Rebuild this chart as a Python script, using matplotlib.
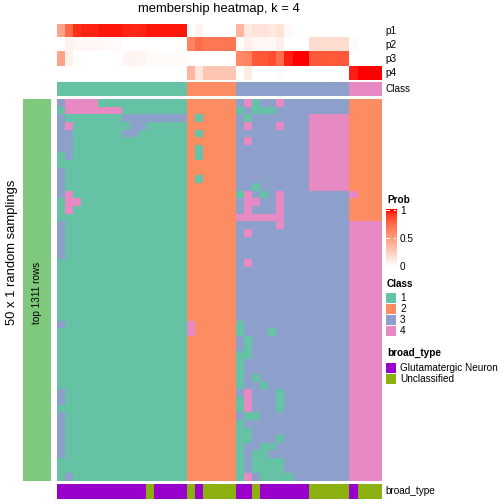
import numpy as np
import matplotlib
matplotlib.use("Agg")
import matplotlib.pyplot as plt
from matplotlib.colors import ListedColormap, LinearSegmentedColormap, BoundaryNorm

plt.rcParams['font.family'] = ['Liberation Sans', 'DejaVu Sans']

W = H = 504

# class colours (Class legend)
class_names = ["1", "2", "3", "4"]
class_colors = ["#66C2A5", "#FC8D62", "#8DA0CB", "#E78AC3"]

# consensus class of the 40 samples (columns)
consensus_class = "1111111111111111 222222 33333333333333 4444"

# membership probabilities per sample
p1 = [0.47, 0.75, 0.92, 0.94, 0.94, 0.96, 0.96, 0.96, 0.94, 0.93, 0.94, 0.96, 0.96, 0.96, 0.96, 0.96,
      0.0, 0.06, 0.0, 0.0, 0.0, 0.0,
      0.38, 0.12, 0.15, 0.15, 0.12, 0.15, 0.03, 0.0, 0.0, 0.0, 0.0, 0.0, 0.0, 0.0,
      0.0, 0.0, 0.0, 0.0]
p2 = [0.0, 0.07, 0.04, 0.04, 0.04, 0.03, 0.03, 0.03, 0.0, 0.0, 0.0, 0.0, 0.0, 0.0, 0.0, 0.0,
      0.62, 0.72, 0.68, 0.68, 0.68, 0.68,
      0.02, 0.08, 0.04, 0.04, 0.03, 0.08, 0.0, 0.0, 0.0, 0.18, 0.18, 0.18, 0.18, 0.18,
      0.02, 0.0, 0.0, 0.0]
p3 = [0.48, 0.07, 0.0, 0.0, 0.0, 0.0, 0.0, 0.0, 0.05, 0.06, 0.05, 0.02, 0.02, 0.02, 0.02, 0.02,
      0.0, 0.0, 0.0, 0.0, 0.0, 0.0,
      0.6, 0.62, 0.8, 0.8, 0.84, 0.72, 0.95, 1.0, 1.0, 0.8, 0.8, 0.8, 0.8, 0.8,
      0.0, 0.0, 0.0, 0.0]
p4 = [0.0, 0.0, 0.0, 0.0, 0.0, 0.0, 0.0, 0.0, 0.0, 0.0, 0.0, 0.0, 0.0, 0.0, 0.0, 0.0,
      0.38, 0.13, 0.3, 0.3, 0.3, 0.3,
      0.0, 0.1, 0.0, 0.0, 0.0, 0.02, 0.0, 0.0, 0.0, 0.0, 0.0, 0.0, 0.0, 0.0,
      0.95, 1.0, 1.0, 1.0]

# class assigned in each of the 50 random samplings (rows) for each sample
samplings = [
    "3444411111111111 222222 34133433333333 2222",
    "1444444411111111 222222 13111333333333 2222",
    "3111111133333333 212222 31333333344444 2222",
    "3411111113311111 222222 34333433344444 2222",
    "3311111133111111 212222 33333333344444 2222",
    "3311111111111111 222222 34333333344444 2222",
    "3311111111111111 212222 33333333344444 2222",
    "1311111111111111 212222 33333333344444 2222",
    "1111111111111111 222222 33333333344444 2222",
    "3111111111111111 222222 33333333344444 2222",
    "3111111111111111 212222 33333333344444 2222",
    "3111111111111111 222222 33133333344444 2222",
    "3411111111111111 222222 14313433333333 4222",
    "1441111111111111 222222 34433433333333 2222",
    "1411111111111111 222222 34333433333333 2222",
    "1111111111111111 222222 44444433333333 2222",
    "3111111111111111 222222 33333433333333 4444",
    "3111111111111111 222222 34333333333333 4444",
    "3111111111111111 222222 33333333333333 4444",
    "3111111111111111 222222 33333333333333 4444",
    "3111111111111111 222222 33333333333333 4444",
    "1111111111111111 222222 34333333333333 4444",
    "1111111111111111 222222 33333333333333 4444",
    "1111111111111111 222222 33333333333333 4444",
    "1111111111111111 222222 33333333333333 4444",
    "1111111111111111 222222 33333333333333 4444",
    "1111111111111111 222222 33333333333333 4444",
    "1111111111111111 222222 33333333333333 4444",
    "1111111111111111 222222 33333333333333 4444",
    "3111111111111111 422222 13333333333333 4444",
    "1111111111111111 422222 13331333333333 4444",
    "1111111111111111 222222 31333333333333 4444",
    "1111111111111111 222222 31333333333333 4444",
    "1111111111111111 222222 11333333333333 4444",
    "1111111111111111 222222 13333333333333 4444",
    "1111111111111111 222222 13333333333333 4444",
    "1111111111111111 222222 13133333333333 4444",
    "1111111111111111 222222 13313333333333 4444",
    "3111111111111111 222222 34333133333333 4444",
    "3111111111111111 222222 14333133333333 4444",
    "1111111111111111 222222 14333133333333 4444",
    "3111111111111111 222222 31133333333333 4444",
    "3111111111111111 222222 13333333333333 4444",
    "3111111111111111 222222 11333333333333 4444",
    "3111111111111111 222222 11333133333333 4444",
    "3111111111111111 222222 13311333333333 4444",
    "3111111111111111 222222 13113333333333 4444",
    "1111111111111111 222222 13111133333333 4444",
    "1111111111111111 222222 13111133333333 4444",
    "1311111111111111 222222 14311113333333 4444",
]

# broad_type of each sample: G = Glutamatergic Neuron, U = Unclassified
broad_type = "GGGGGGGGGGGUGGGGUGUUUUGGUGGGGGGUUUUUGUUU"
broad_names = ["Glutamatergic Neuron", "Unclassified"]
broad_colors = ["#9900CC", "#8BB00F"]


def to_int_row(s):
    return [int(ch) for ch in s.replace(" ", "")]


member_mat = np.array([to_int_row(s) for s in samplings])
class_row = np.array([to_int_row(consensus_class)])
broad_row = np.array([[0 if ch == "G" else 1 for ch in broad_type]])
prob_mat = np.array([p1, p2, p3, p4])

class_cmap = ListedColormap(class_colors)
class_norm = BoundaryNorm([0.5, 1.5, 2.5, 3.5, 4.5], 4)
prob_cmap = LinearSegmentedColormap.from_list(
    "prob", [(0, "#FFFFFF"), (0.25, "#FFCFBF"), (0.5, "#FF9E81"),
             (0.75, "#FF6846"), (0.9, "#FF3D22"), (1, "#FF0000")])

fig = plt.figure(figsize=(7, 7), dpi=72)


def px_axes(x0, y0, x1, y1):
    ax = fig.add_axes([x0 / W, 1 - y1 / H, (x1 - x0) / W, (y1 - y0) / H])
    ax.set_axis_off()
    return ax


X0, X1 = 57, 381

# membership probabilities
ax = px_axes(X0, 24, X1, 80.5)
ax.imshow(prob_mat, cmap=prob_cmap, vmin=0, vmax=1, aspect="auto", interpolation="nearest")
for i, name in enumerate(["p1", "p2", "p3", "p4"]):
    fig.text(385 / W, 1 - (31 + 14.1 * i) / H, name, fontsize=10, va="center", ha="left")

# consensus class
ax = px_axes(X0, 82, X1, 96)
ax.imshow(class_row, cmap=class_cmap, norm=class_norm, aspect="auto", interpolation="nearest")
fig.text(385 / W, 1 - 89 / H, "Class", fontsize=10, va="center", ha="left")

# main heatmap
ax = px_axes(X0, 99, X1, 480.5)
ax.imshow(member_mat, cmap=class_cmap, norm=class_norm, aspect="auto", interpolation="nearest")

# broad_type annotation
ax = px_axes(X0, 483.7, X1, 499)
ax.imshow(broad_row, cmap=ListedColormap(broad_colors), vmin=0, vmax=1, aspect="auto",
          interpolation="nearest")
fig.text(385 / W, 1 - 491.5 / H, "broad_type", fontsize=10, va="center", ha="left")

# row split bar
ax = px_axes(23, 99, 51, 481)
ax.add_patch(plt.Rectangle((0, 0), 1, 1, color="#7FC97F"))
fig.text(37 / W, 1 - 293 / H, "top 1311 rows", fontsize=10, rotation=90, va="center", ha="center")
fig.text(12 / W, 1 - 252 / H, "50 x 1 random samplings", fontsize=13, rotation=90,
         va="center", ha="center")

fig.text(219 / W, 1 - 9 / H, "membership heatmap, k = 4", fontsize=13, va="center", ha="center")

# legends
fig.text(387 / W, 1 - 200 / H, "Prob", fontsize=10, fontweight="bold", va="center", ha="left")
cb = px_axes(386, 209, 396, 267)
cb.imshow(np.linspace(1, 0, 200).reshape(-1, 1), cmap=prob_cmap, vmin=0, vmax=1,
          aspect="auto", extent=(0, 1, 0, 1))
cb.set_xlim(0, 1)
cb.set_ylim(0, 1)
for v in [0.0, 0.5, 1.0]:
    yv = 0.02 + 0.96 * v
    cb.plot([0, 0.25], [yv, yv], color="white", lw=1)
    cb.plot([0.75, 1], [yv, yv], color="white", lw=1)
    fig.text(400 / W, 1 - (267 - 56 * v) / H, f"{v:g}", fontsize=10, va="center", ha="left")

fig.text(387 / W, 1 - 284 / H, "Class", fontsize=10, fontweight="bold", va="center", ha="left")
for i, (name, col) in enumerate(zip(class_names, class_colors)):
    y0 = 293 + 11 * i
    px_axes(386, y0, 396, y0 + 10).add_patch(plt.Rectangle((0, 0), 1, 1, color=col))
    fig.text(400 / W, 1 - (y0 + 5) / H, name, fontsize=10, va="center", ha="left")

fig.text(387 / W, 1 - 353 / H, "broad_type", fontsize=10, fontweight="bold", va="center", ha="left")
for i, (name, col) in enumerate(zip(broad_names, broad_colors)):
    y0 = 363 + 11 * i
    px_axes(386, y0, 396, y0 + 10).add_patch(plt.Rectangle((0, 0), 1, 1, color=col))
    fig.text(400 / W, 1 - (y0 + 5) / H, name, fontsize=10, va="center", ha="left")

fig.savefig("out.png", dpi=72)
